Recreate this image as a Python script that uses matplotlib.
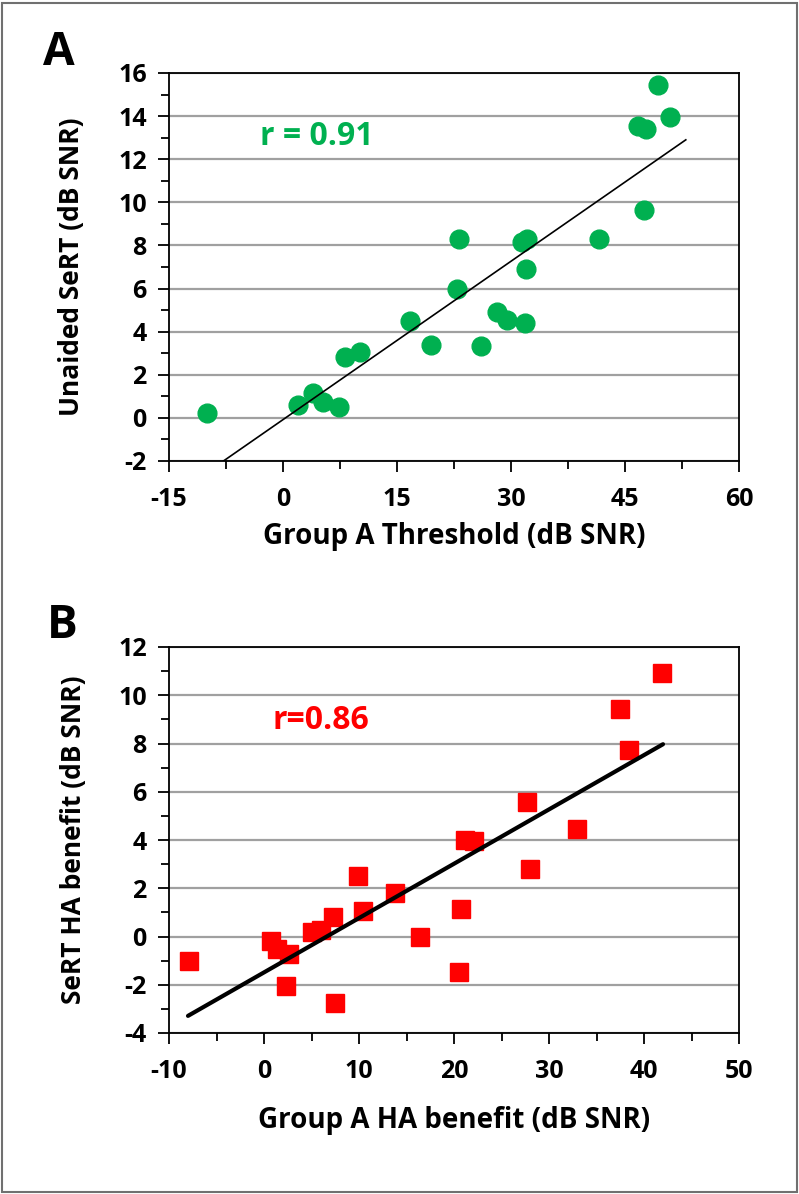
import matplotlib
matplotlib.use("Agg")
import matplotlib.pyplot as plt
from matplotlib.patches import Rectangle
from matplotlib.ticker import MultipleLocator

# panel A: group A threshold vs unaided SeRT
thr_a = [-10.0, 2.0, 3.9, 5.3, 7.4, 8.2, 10.1, 16.7, 19.5, 22.9, 23.1, 26.0,
         28.1, 29.5, 31.8, 31.5, 32.1, 32.0, 41.6, 47.5, 46.7, 47.7, 50.9, 49.3]
sert_a = [0.22, 0.60, 1.15, 0.73, 0.50, 2.82, 3.05, 4.48, 3.40, 6.0, 8.29, 3.35,
          4.90, 4.53, 4.40, 8.17, 8.28, 6.93, 8.29, 9.64, 13.52, 13.41, 13.98, 15.44]
trend_a_x = [-10, 53]
trend_a_y = [-2.53, 12.9]

# panel B: HA benefit
ben_group = [-7.9, 0.7, 1.4, 2.6, 2.3, 5.0, 6.0, 7.3, 7.5, 9.9, 10.4, 13.8,
             16.4, 20.7, 20.5, 21.2, 22.1, 27.7, 28.0, 32.9, 37.5, 38.4, 41.9]
ben_sert = [-1.02, -0.18, -0.50, -0.73, -2.06, 0.19, 0.29, 0.81, -2.74, 2.51, 1.06, 1.81,
            -0.02, 1.13, -1.49, 3.99, 3.95, 5.56, 2.80, 4.44, 9.44, 7.75, 10.92]
trend_b_x = [-8, 42]
trend_b_y = [-3.29, 7.97]

plt.rcParams['font.family'] = ["Open Sans", "DejaVu Sans"]
plt.rcParams['font.weight'] = 'bold'
plt.rcParams['axes.unicode_minus'] = False

GREEN = "#00b050"
RED = "#ff0000"

fig = plt.figure(figsize=(7.99, 11.94), dpi=100)
W, H = 799, 1194


def style_axes(ax, xmaj, xmin, ymaj, ymin):
    ax.xaxis.set_major_locator(MultipleLocator(xmaj))
    ax.xaxis.set_minor_locator(MultipleLocator(xmin))
    ax.yaxis.set_major_locator(MultipleLocator(ymaj))
    ax.yaxis.set_minor_locator(MultipleLocator(ymin))
    ax.tick_params(which='major', direction='out', length=8, width=1.3, labelsize=18)
    ax.tick_params(which='minor', direction='out', length=6, width=1.3)
    ax.tick_params(axis='x', which='major', pad=11)
    ax.tick_params(axis='y', which='major', pad=8)
    for s in ax.spines.values():
        s.set_linewidth(1.3)
    ax.yaxis.grid(True, which='major', color='#a0a0a0', linewidth=1.6)
    ax.set_axisbelow(True)
    for lab in ax.get_xticklabels() + ax.get_yticklabels():
        lab.set_fontweight('bold')


# ---- panel A
axa = fig.add_axes([169 / W, 1 - 461 / H, 570 / W, 388 / H])
axa.plot(thr_a, sert_a, 'o', color=GREEN, markersize=13.5, zorder=3)
axa.plot(trend_a_x, trend_a_y, color='black', linewidth=1.2, zorder=4)
axa.set_xlim(-15, 60)
axa.set_ylim(-2, 16)
style_axes(axa, 15, 7.5, 2, 1)
axa.set_xlabel("Group A Threshold (dB SNR)", fontsize=20, fontweight='bold')
axa.set_ylabel("Unaided SeRT (dB SNR)", fontsize=19, fontweight='bold')
axa.xaxis.set_label_coords(0.5, -0.158)
axa.yaxis.set_label_coords(-0.148, 0.5)
axa.text(-3, 13.05, "r = 0.91", color=GREEN, fontsize=23, fontweight='bold',
         ha='left', va='center')

# ---- panel B
axb = fig.add_axes([169 / W, 1 - 1033 / H, 570 / W, 386 / H])
axb.plot(ben_group, ben_sert, 's', color=RED, markersize=13.5, zorder=3)
axb.plot(trend_b_x, trend_b_y, color='black', linewidth=3, zorder=4,
         solid_capstyle='round')
axb.set_xlim(-10, 50)
axb.set_ylim(-4, 12)
style_axes(axb, 10, 5, 2, 1)
axb.set_xlabel("Group A HA benefit (dB SNR)", fontsize=20, fontweight='bold')
axb.set_ylabel("SeRT HA benefit (dB SNR)", fontsize=19, fontweight='bold')
axb.xaxis.set_label_coords(0.5, -0.19)
axb.yaxis.set_label_coords(-0.143, 0.5)
axb.text(0.88, 8.96, "r=0.86", color=RED, fontsize=23, fontweight='bold',
         ha='left', va='center')

# panel letters
fig.text(43 / W, 1 - 65 / H, "A", fontsize=33, fontweight='bold', va='baseline')
fig.text(47 / W, 1 - 638 / H, "B", fontsize=33, fontweight='bold', va='baseline')

# outer frame
fig.patches.append(Rectangle((2 / W, 2 / H), 795 / W, 1189 / H, transform=fig.transFigure,
                             fill=False, edgecolor='#707070', linewidth=1.5))

fig.savefig("out.png", dpi=100)
